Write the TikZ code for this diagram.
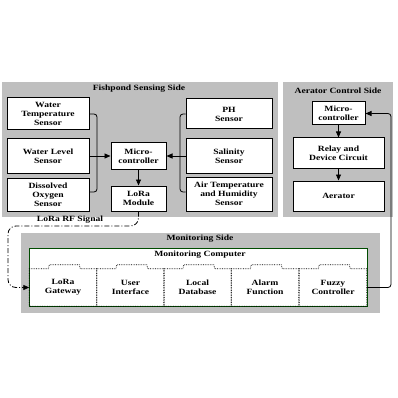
\documentclass[tikz,border=0pt]{standalone}
\usepackage{fontspec}
\setmainfont{Liberation Serif}[FakeStretch=1.2]
\usetikzlibrary{arrows.meta}
\begin{document}
\begin{tikzpicture}[x=1pt,y=-1pt,
  font=\fontsize{8}{9}\selectfont\bfseries,
  panel/.style={fill=black!25,draw=none},
  box/.style={draw,fill=white,line width=1pt,align=center,inner sep=0pt},
  sbox/.style={draw=none,align=center,inner sep=0pt,minimum width=67pt,minimum height=37pt},
  tabbed/.style={densely dotted,line width=0.7pt},
  arr/.style={line width=0.8pt,-{Triangle[length=6pt,width=5pt]}},
  wire/.style={line width=0.8pt,rounded corners=3pt},
  title/.style={inner sep=0pt}]
\useasboundingbox (0,0) rectangle (398,398);
% panels
\fill[panel] (2,82) rectangle (278,217);
\fill[panel] (283,82) rectangle (393,217);
\fill[panel] (21,233) rectangle (380,313);
\node[title] (tfish) at (139,89) {Fishpond Sensing Side};
\node[title] (taer) at (338,91) {Aerator Control Side};
\node[title] (tmon) at (200,239) {Monitoring Side};
% fishpond sensors
\node[box,minimum width=82pt,minimum height=32pt] (wt) at (48,114) {Water\\Temperature\\Sensor};
\node[box,minimum width=82pt,minimum height=34pt] (wl) at (48,156) {Water Level\\Sensor};
\node[box,minimum width=82pt,minimum height=33pt] (do) at (48,194.5) {Dissolved\\Oxygen\\Sensor};
\node[box,minimum width=55pt,minimum height=27pt] (mc) at (138.5,156) {Micro-\\controller};
\node[box,minimum width=55pt,minimum height=25pt] (lm) at (138.5,198.5) {LoRa\\Module};
\node[box,minimum width=86pt,minimum height=30pt] (ph) at (229,114) {PH\\Sensor};
\node[box,minimum width=86pt,minimum height=34pt] (sa) at (229,156) {Salinity\\Sensor};
\node[box,minimum width=86pt,minimum height=34pt] (at) at (229,194) {Air Temperature\\and Humidity\\Sensor};
% aerator side
\node[box,minimum width=53pt,minimum height=23pt] (am) at (338.5,113.5) {Micro-\\controller};
\node[box,minimum width=91pt,minimum height=30pt] (rd) at (338.5,153) {Relay and\\Device Circuit};
\node[box,minimum width=91pt,minimum height=30pt] (ae) at (338.5,196) {Aerator};
% monitoring computer
\draw[draw=green!30!black,fill=white,line width=0.7pt] (29,248) rectangle (367,306);
\node[title] (tmc) at (200,255) {Monitoring Computer};
\node[sbox] (gw) at (63,287.5) {LoRa\\Gateway};
\node[sbox] (ui) at (130.5,287.5) {User\\Interface};
\node[sbox] (db) at (197.5,287.5) {Local\\Database};
\node[sbox] (al) at (265,287.5) {Alarm\\Function};
\node[sbox] (fz) at (333,287.5) {Fuzzy\\Controller};
\foreach \n in {gw,ui,db,al,fz}{
  \draw[tabbed] (\n.south west) -- (\n.north west) -- ++(19,0) -- ++(1,-4) -- ++(30,0) -- ++(1,4) -- (\n.north east) -- (\n.south east) -- cycle;
}
% connectors fishpond
\draw[wire] (wt.east) -- (97,114) -- (97,192) -- (do.east |- 0,192);
\draw[arr] (wl.east) -- (mc.west);
\draw[wire] (ph.west) -- (180,114) -- (180,192) -- (at.west |- 0,192);
\draw[arr] (sa.west) -- (mc.east);
\draw[arr] (mc.south) -- (lm.north);
% aerator
\draw[arr] (am.south) -- (rd.north);
\draw[arr] (rd.south) -- (ae.north);
% fuzzy to aerator micro
\draw[arr,rounded corners=3pt] (fz.east) -- (391,287.5) -- (391,113.5) -- (am.east);
% LoRa RF signal
\draw[arr,rounded corners=8pt,dash pattern=on 5pt off 2pt on 1pt off 2pt] (lm.south) -- (138.5,226) -- (8,226) -- (8,287.5) -- (gw.west);
\node[title] (rf) at (70,220) {LoRa RF Signal};
\end{tikzpicture}
\end{document}
